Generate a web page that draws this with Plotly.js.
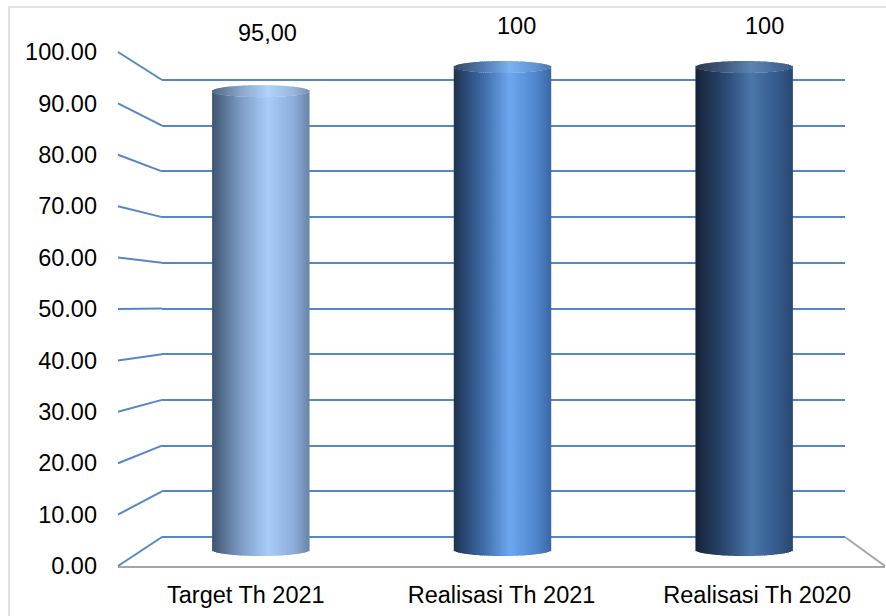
<!DOCTYPE html>
<html>
<head>
<meta charset="utf-8">
<script src="https://cdn.plot.ly/plotly-3.0.1.min.js"></script>
<style>html,body{margin:0;padding:0;background:#fff;}#chart{width:886px;height:616px;}</style>
</head>
<body>
<div id="chart"></div>
<script>
// ---- data ----
const categories = ['Target Th 2021', 'Realisasi Th 2021', 'Realisasi Th 2020'];
const values = [95, 100, 100];
const valueLabels = ['95,00', '100', '100'];
const yTickValues = [0, 10, 20, 30, 40, 50, 60, 70, 80, 90, 100];

// ---- style ----
const W = 886, H = 616;
const px = x => x / W;              // pixel -> paper x
const py = y => (H - y) / H;        // pixel -> paper y
const gridColor = '#5587c6';
const gridW = 2;
const floorColor = '#a6a6a6';
const font = 'Liberation Sans, Arial, sans-serif';
const fsize = 23.5;

// 3D planes (front / middle / back), pixel positions of value 0 and 100
const frontX = [px(118), px(885)], frontYpx = [566, 52];
const frontY = [py(frontYpx[0]), py(frontYpx[1])];
const midXpx = [140, 865], midYpx = [550, 67];
const backX = [px(162), px(845)], backYpx = [537, 80];

// extended domains so that ellipse caps below 0 / above 100 are not clipped
const pad = 10;
const midK = (midYpx[0] - midYpx[1]) / 100;
const midY = [py(midYpx[0] + pad * midK), py(midYpx[1] - pad * midK)];
const backK = (backYpx[0] - backYpx[1]) / 100;
const backY = [py(backYpx[0] + pad * backK), py(backYpx[1] - pad * backK)];
const midX = [px(midXpx[0]), px(midXpx[1])];

const gradStops = [0, 0.3, 0.58, 0.85, 1];
const barGradients = [
  ['#3d5470', '#7e9cc6', '#a9cdf8', '#8cacd9', '#6a86aa'],
  ['#1e3450', '#3e6aa8', '#6ca8f0', '#4f86cd', '#3c69a6'],
  ['#152338', '#2a4872', '#4b77a9', '#34598b', '#2a4873']
];
const labelXShift = [7, 14, 20];
const labelYShift = [58, 41, 41];

function hexToRgb(h) { return [1, 3, 5].map(i => parseInt(h.substr(i, 2), 16)); }
function gradAt(cols, t) {
  for (let k = 0; k < gradStops.length - 1; k++) {
    if (t <= gradStops[k + 1]) {
      const f = (t - gradStops[k]) / (gradStops[k + 1] - gradStops[k]);
      const a = hexToRgb(cols[k]), b = hexToRgb(cols[k + 1]);
      return a.map((v, i) => v + (b[i] - v) * f);
    }
  }
  return hexToRgb(cols[cols.length - 1]);
}
const rgb = c => 'rgb(' + c.map(v => Math.round(Math.min(255, v))).join(',') + ')';
const lighten = (c, f) => c.map(v => v + (255 - v) * f);

const N = 48, halfW = 0.2, ry = 1.24;
const traces = [];
// back wall helper trace (so subplot xy exists)
traces.push({type: 'scatter', x: [0], y: [0], xaxis: 'x', yaxis: 'y', mode: 'markers',
  marker: {opacity: 0}, hoverinfo: 'skip', showlegend: false});

values.forEach((v, i) => {
  const sx = [], sBase = [], sLen = [], sCol = [], cBase = [], cLen = [], cCol = [];
  for (let j = 0; j < N; j++) {
    const t = -1 + (2 * j + 1) / N;
    const e = ry * Math.sqrt(Math.max(0, 1 - t * t));
    const c = gradAt(barGradients[i], (t + 1) / 2);
    sx.push(i + t * halfW);
    sBase.push(-e); sLen.push(v); sCol.push(rgb(c));
    cBase.push(v - e); cLen.push(2 * e); cCol.push(rgb(lighten(c, 0.1)));
  }
  const w = 2 * halfW / N * 1.4;
  traces.push({type: 'bar', x: sx, y: sLen, base: sBase, width: w, xaxis: 'x2', yaxis: 'y2',
    marker: {color: sCol, line: {width: 0}}, hoverinfo: 'skip', showlegend: false});
  traces.push({type: 'bar', x: sx, y: cLen, base: cBase, width: w, xaxis: 'x2', yaxis: 'y2',
    marker: {color: cCol, line: {width: 0}}, hoverinfo: 'skip', showlegend: false});
});
// front helper trace
traces.push({type: 'scatter', x: [0], y: [0], xaxis: 'x3', yaxis: 'y3', mode: 'markers',
  marker: {opacity: 0}, hoverinfo: 'skip', showlegend: false});

const shapes = [];
const lerpPaper = (dpx, v) => py(dpx[0] + (dpx[1] - dpx[0]) * v / 100);
yTickValues.forEach(v => {
  shapes.push({type: 'line', xref: 'paper', yref: 'paper',
    x0: frontX[0], y0: lerpPaper(frontYpx, v), x1: backX[0], y1: lerpPaper(backYpx, v),
    line: {color: gridColor, width: gridW}});
});
// floor right edge
shapes.push({type: 'line', xref: 'paper', yref: 'paper',
  x0: backX[1], y0: lerpPaper(backYpx, 0), x1: frontX[1], y1: lerpPaper(frontYpx, 0),
  line: {color: floorColor, width: 2}});
// chart border
shapes.push({type: 'rect', xref: 'paper', yref: 'paper', x0: px(9), x1: 1.02, y0: -0.02, y1: py(7),
  line: {color: '#d9d9d9', width: 1.5}, fillcolor: 'rgba(0,0,0,0)'});

const annotations = values.map((v, i) => ({
  xref: 'x2', yref: 'y2', x: i, y: v, text: valueLabels[i], showarrow: false,
  xshift: labelXShift[i], yshift: labelYShift[i], yanchor: 'middle',
  font: {family: font, size: fsize, color: '#000'}
}));

const hidden = {showgrid: false, zeroline: false, showline: false, showticklabels: false, ticks: ''};
const layout = {
  width: W, height: H, margin: {l: 0, r: 0, t: 0, b: 0},
  paper_bgcolor: '#fff', plot_bgcolor: 'rgba(0,0,0,0)',
  showlegend: false, hovermode: false, barmode: 'overlay',
  font: {family: font, size: fsize, color: '#000'},
  xaxis: Object.assign({}, hidden, {domain: backX, range: [0, 1], anchor: 'y'}),
  yaxis: {domain: backY, range: [-pad, 100 + pad], anchor: 'x', tickmode: 'array',
    tickvals: yTickValues,
    showgrid: true, gridcolor: gridColor, gridwidth: gridW,
    zeroline: true, zerolinecolor: gridColor, zerolinewidth: gridW,
    showline: false, showticklabels: false, ticks: ''},
  xaxis2: Object.assign({}, hidden, {domain: midX, range: [-0.5, 2.5], anchor: 'y2'}),
  yaxis2: Object.assign({}, hidden, {domain: midY, range: [-pad, 100 + pad], anchor: 'x2'}),
  xaxis3: {domain: frontX, range: [-0.5, 2.5], anchor: 'y3', tickmode: 'array',
    tickvals: categories.map((c, i) => i), ticktext: categories,
    showgrid: false, zeroline: false, showline: true, linecolor: floorColor, linewidth: 2,
    ticks: '', ticklabelstandoff: 7, tickfont: {family: font, size: fsize, color: '#000'}},
  yaxis3: {domain: frontY, range: [0, 100], anchor: 'x3', tickmode: 'array',
    tickvals: yTickValues, tickformat: '.2f',
    showgrid: false, zeroline: false, showline: false, ticks: '',
    ticklabelstandoff: 20, tickfont: {family: font, size: fsize, color: '#000'}},
  shapes: shapes, annotations: annotations
};

Plotly.newPlot('chart', traces, layout, {displayModeBar: false, staticPlot: true});
</script>
</body>
</html>
